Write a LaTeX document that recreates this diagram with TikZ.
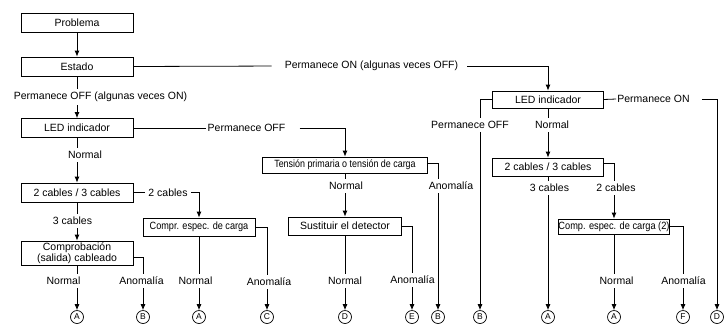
\documentclass[tikz,border=0pt]{standalone}
\usepackage{fontspec}
\usepackage{graphicx}
\setmainfont{Liberation Sans}
\usetikzlibrary{arrows.meta}
\begin{document}
\begin{tikzpicture}[x=1pt,y=-1pt,
  font=\fontsize{10.5}{11.5}\selectfont,
  box/.style={draw, line width=0.8pt, inner sep=0pt, align=center},
  lbl/.style={inner sep=3pt},
  circ/.style={circle, draw, line width=0.7pt, minimum size=13pt, inner sep=0pt, font=\fontsize{8.5}{9}\selectfont},
  ln/.style={line width=0.8pt},
  arr/.style={ln, -{Latex[length=6pt,width=5pt]}}
]
\useasboundingbox (0,0) rectangle (725,325);

% boxes
\node[box, minimum width=112pt, minimum height=19pt] (prob) at (77,22.5) {Problema};
\node[box, minimum width=112pt, minimum height=19pt] (est) at (77,66.5) {Estado};
\node[box, minimum width=112pt, minimum height=19pt] (led1) at (77,128) {LED indicador};
\node[box, minimum width=112pt, minimum height=19pt] (cab1) at (77,192.5) {2 cables / 3 cables};
\node[box, minimum width=112pt, minimum height=24pt] (cpr) at (77,253) {Comprobación\\(salida) cableado};
\node[box, minimum width=112pt, minimum height=18pt] (esp) at (199,227) {\scalebox{0.87}[1]{Compr. espec. de carga}};
\node[box, minimum width=165pt, minimum height=16pt] (ten) at (345,165) {\scalebox{0.85}[1]{Tensión primaria o tensión de carga}};
\node[box, minimum width=113pt, minimum height=18pt] (sus) at (345,226) {Sustituir el detector};
\node[box, minimum width=111pt, minimum height=17pt] (led2) at (548,99.5) {LED indicador};
\node[box, minimum width=111pt, minimum height=18pt] (cab2) at (548,167) {2 cables / 3 cables};
\node[box, minimum width=111pt, minimum height=15pt] (esp2) at (614,226.5) {\scalebox{0.88}[1]{Comp. espec. de carga (2)}};

% end circles
\node[circ] (cA1) at (77,317) {A};
\node[circ] (cB1) at (143,317) {B};
\node[circ] (cA2) at (199,317) {A};
\node[circ] (cC) at (267,317) {C};
\node[circ] (cD1) at (345,317) {D};
\node[circ] (cE) at (412,317) {E};
\node[circ] (cB2) at (438,317) {B};
\node[circ] (cB3) at (480,317) {B};
\node[circ] (cA3) at (548,317) {A};
\node[circ] (cA4) at (614,317) {A};
\node[circ] (cF) at (683,317) {F};
\node[circ] (cD2) at (717,317) {D};

% labels
\node[lbl] (lon) at (371.5,66) {Permanece ON (algunas veces OFF)};
\node[lbl] (loff1) at (100.5,97) {Permanece OFF (algunas veces ON)};
\node[lbl, inner xsep=1pt] (loff2) at (246.5,128) {Permanece OFF};
\node[lbl] (nl1) at (85,155) {Normal};
\node[lbl] (c2a) at (168,192.5) {2 cables};
\node[lbl] (c3a) at (72.5,221) {3 cables};
\node[lbl] (nA1) at (63.5,281) {Normal};
\node[lbl] (aB1) at (141.5,281) {Anomalía};
\node[lbl] (nA2) at (195.5,281) {Normal};
\node[lbl] (aC) at (269,282) {Anomalía};
\node[lbl] (nT) at (346,186) {Normal};
\node[lbl] (aT) at (451,186) {Anomalía};
\node[lbl] (nD) at (345,281) {Normal};
\node[lbl] (aE) at (412.5,280) {Anomalía};
\node[lbl] (loff3) at (470,125) {Permanece OFF};
\node[lbl] (nl2) at (552,125) {Normal};
\node[lbl, inner xsep=1pt] (lon2) at (653.5,99) {Permanece ON};
\node[lbl] (c3b) at (549.5,188) {3 cables};
\node[lbl] (c2b) at (616,188) {2 cables};
\node[lbl] (nA4) at (616.5,281) {Normal};
\node[lbl] (aF) at (683.5,281) {Anomalía};

% connectors
\draw[arr] (prob) -- (est);
\draw[ln, shorten >=10pt] (est.east) -- (lon.west);
\draw[arr, shorten <=6pt] (lon.east) -| (led2.north);

\draw[ln] (est.south) -- (est.south |- loff1.north);
\draw[arr] (est.south |- loff1.south) -- (led1.north);

\draw[ln] (led1.east) -- (loff2.west);
\draw[arr, shorten <=13pt] (loff2.east) -| (ten.north);

\draw[ln] (led1.south) -- (led1.south |- nl1.north);
\draw[arr] (led1.south |- nl1.south) -- (cab1.north);

\draw[ln] (cab1.east) -- (c2a.west);
\draw[arr] (c2a.east) -| (esp.north);

\draw[ln] (cab1.south) -- (cab1.south |- c3a.north);
\draw[arr] (cab1.south |- c3a.south) -- (cpr.north);

\draw[ln] (cpr.south) -- (cA1 |- nA1.north);
\draw[arr] (cA1 |- nA1.south) -- (cA1.north);
\draw[ln] ([yshift=-4pt]cpr.east) -| (cB1 |- aB1.north);
\draw[arr] (cB1 |- aB1.south) -- (cB1.north);

\draw[ln] (esp.south) -- (cA2 |- nA2.north);
\draw[arr] (cA2 |- nA2.south) -- (cA2.north);
\draw[ln] (esp.east) -| (cC |- aC.north);
\draw[arr] (cC |- aC.south) -- (cC.north);

\draw[ln] (ten.south) -- (ten.south |- nT.north);
\draw[arr] (ten.south |- nT.south) -- (sus.north);
\draw[ln] ([yshift=2pt]ten.east) -| (cB2 |- aT.north);
\draw[arr] (cB2 |- aT.south) -- (cB2.north);

\draw[ln] (sus.south) -- (cD1 |- nD.north);
\draw[arr] (cD1 |- nD.south) -- (cD1.north);
\draw[ln] (sus.east) -| (cE |- aE.north);
\draw[arr] (cE |- aE.south) -- (cE.north);

\draw[ln] (led2.west) -| (cB3 |- loff3.north);
\draw[arr] (cB3 |- loff3.south) -- (cB3.north);
\draw[ln] (led2.south) -- (led2.south |- nl2.north);
\draw[arr] (led2.south |- nl2.south) -- (cab2.north);
\draw[ln] (led2.east) -- (lon2.west);
\draw[arr, shorten <=11pt] (lon2.east) -| (cD2.north);

\draw[ln] (cab2.south) -- (cA3 |- c3b.north);
\draw[arr] (cA3 |- c3b.south) -- (cA3.north);
\draw[ln] ([yshift=4pt]cab2.east) -| (esp2.north |- c2b.north);
\draw[arr] (esp2.north |- c2b.south) -- (esp2.north);

\draw[ln] (esp2.south) -- (cA4 |- nA4.north);
\draw[arr] (cA4 |- nA4.south) -- (cA4.north);
\draw[ln] (esp2.east) -| (cF |- aF.north);
\draw[arr] (cF |- aF.south) -- (cF.north);
\end{tikzpicture}
\end{document}
